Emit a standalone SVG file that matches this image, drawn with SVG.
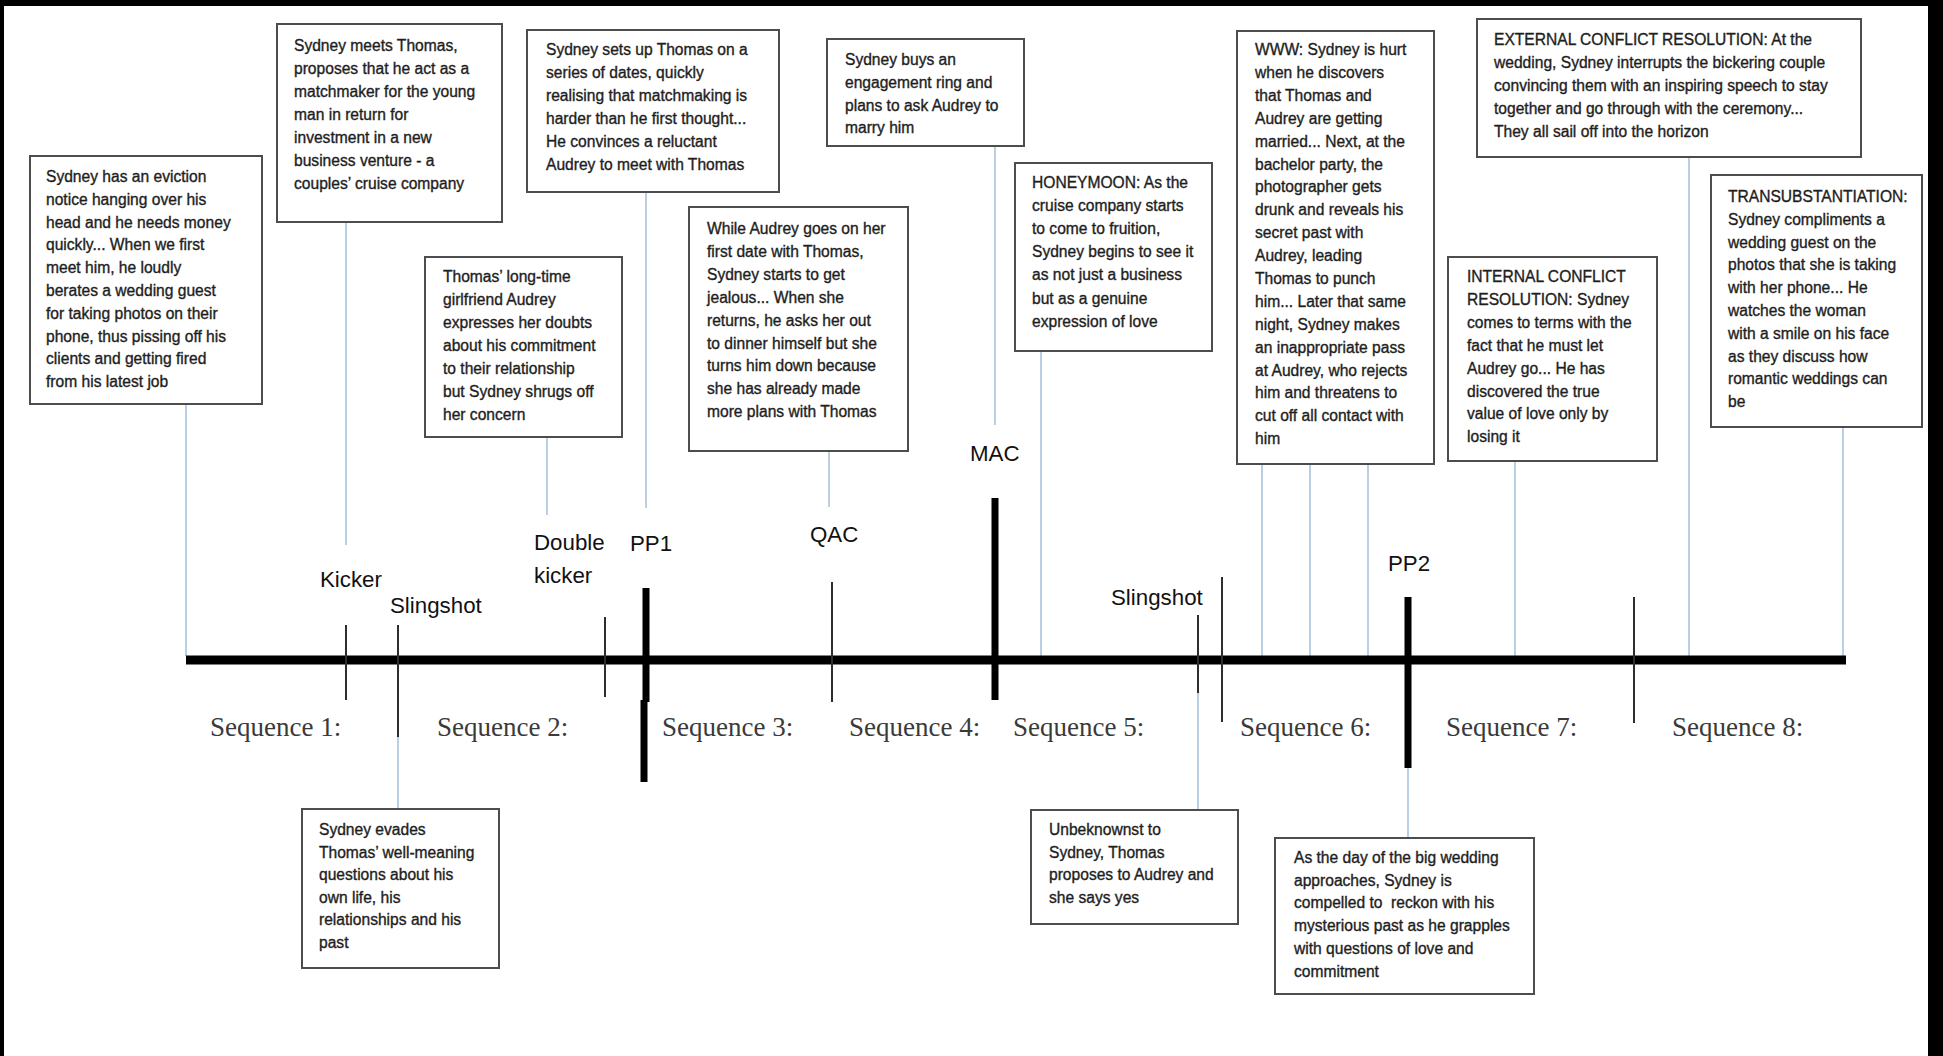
<svg xmlns="http://www.w3.org/2000/svg" width="1943" height="1056" viewBox="0 0 1943 1056">
<style>
.bg{fill:#ffffff}
.frame{fill:#000000}
.box{fill:#ffffff;stroke:#4d4d4d;stroke-width:2}
.t{font-family:"Liberation Sans",Arial,sans-serif;font-size:15.6px;fill:#1e1e1e;stroke:#1e1e1e;stroke-width:0.35}
.lbl{font-family:"Liberation Sans",Arial,sans-serif;font-size:22.3px;fill:#111111}
.seq{font-family:"Liberation Serif","Times New Roman",serif;font-size:27px;fill:#3a3a3a}
.conn{stroke:#a9c3de;stroke-width:1.6;fill:none}
.tick{stroke:#2e2e2e;stroke-width:2;fill:none}
.bar{stroke:#000000;stroke-width:7;fill:none}
.axis{stroke:#000000;stroke-width:9;fill:none}
</style>
<rect class="bg" x="0" y="0" width="1943" height="1056"/>
<rect class="frame" x="0" y="0" width="1943" height="6"/>
<rect class="frame" x="0" y="0" width="4" height="1056"/>
<rect class="frame" x="1928" y="0" width="15" height="1056"/>

<g id="connectors">
<line class="conn" x1="186" y1="404" x2="186" y2="656"/>
<line class="conn" x1="346" y1="222" x2="346" y2="545"/>
<line class="conn" x1="646" y1="192" x2="646" y2="508"/>
<line class="conn" x1="547" y1="437" x2="547" y2="515"/>
<line class="conn" x1="829" y1="451" x2="829" y2="507"/>
<line class="conn" x1="995" y1="146" x2="995" y2="425"/>
<line class="conn" x1="1041" y1="351" x2="1041" y2="656"/>
<line class="conn" x1="1262" y1="464" x2="1262" y2="656"/>
<line class="conn" x1="1310" y1="464" x2="1310" y2="656"/>
<line class="conn" x1="1368" y1="464" x2="1368" y2="656"/>
<line class="conn" x1="1515" y1="461" x2="1515" y2="656"/>
<line class="conn" x1="1689" y1="157" x2="1689" y2="656"/>
<line class="conn" x1="1843" y1="427" x2="1843" y2="656"/>
<line class="conn" x1="398" y1="737" x2="398" y2="809"/>
<line class="conn" x1="1198" y1="693" x2="1198" y2="810"/>
<line class="conn" x1="1408" y1="768" x2="1408" y2="838"/>
</g>

<g id="timeline">
<line class="axis" x1="186" y1="660" x2="1846" y2="660"/>
<line class="tick" x1="346" y1="625" x2="346" y2="700"/>
<line class="tick" x1="398" y1="625" x2="398" y2="737"/>
<line class="tick" x1="605" y1="617" x2="605" y2="697"/>
<line class="tick" x1="832" y1="582" x2="832" y2="702"/>
<line class="tick" x1="1198" y1="615" x2="1198" y2="693"/>
<line class="tick" x1="1222" y1="577" x2="1222" y2="722"/>
<line class="tick" x1="1634" y1="597" x2="1634" y2="723"/>
<line class="bar" x1="646" y1="588" x2="646" y2="702" stroke-width="6"/>
<line class="bar" x1="644" y1="700" x2="644" y2="782" stroke-width="4"/>
<line class="bar" x1="995" y1="498" x2="995" y2="700"/>
<line class="bar" x1="1408" y1="597" x2="1408" y2="768"/>
</g>

<g id="timeline-labels">
<text class="lbl" x="320" y="587">Kicker</text>
<text class="lbl" x="390" y="613">Slingshot</text>
<text class="lbl" x="534" y="550">Double</text>
<text class="lbl" x="534" y="583">kicker</text>
<text class="lbl" x="630" y="551">PP1</text>
<text class="lbl" x="810" y="542">QAC</text>
<text class="lbl" x="970" y="461">MAC</text>
<text class="lbl" x="1111" y="605">Slingshot</text>
<text class="lbl" x="1388" y="571">PP2</text>
</g>

<g id="sequences">
<text class="seq" x="210" y="736">Sequence 1:</text>
<text class="seq" x="437" y="736">Sequence 2:</text>
<text class="seq" x="662" y="736">Sequence 3:</text>
<text class="seq" x="849" y="736">Sequence 4:</text>
<text class="seq" x="1013" y="736">Sequence 5:</text>
<text class="seq" x="1240" y="736">Sequence 6:</text>
<text class="seq" x="1446" y="736">Sequence 7:</text>
<text class="seq" x="1672" y="736">Sequence 8:</text>
</g>

<g id="box-eviction">
<rect class="box" x="30" y="156" width="232" height="248"/>
<text class="t" x="46" y="182">
<tspan x="46" dy="0">Sydney has an eviction</tspan>
<tspan x="46" dy="22.8">notice hanging over his</tspan>
<tspan x="46" dy="22.8">head and he needs money</tspan>
<tspan x="46" dy="22.8">quickly... When we first</tspan>
<tspan x="46" dy="22.8">meet him, he loudly</tspan>
<tspan x="46" dy="22.8">berates a wedding guest</tspan>
<tspan x="46" dy="22.8">for taking photos on their</tspan>
<tspan x="46" dy="22.8">phone, thus pissing off his</tspan>
<tspan x="46" dy="22.8">clients and getting fired</tspan>
<tspan x="46" dy="22.8">from his latest job</tspan>
</text>
</g>

<g id="box-meets">
<rect class="box" x="277" y="24" width="225" height="198"/>
<text class="t" x="294" y="51">
<tspan x="294" dy="0">Sydney meets Thomas,</tspan>
<tspan x="294" dy="23">proposes that he act as a</tspan>
<tspan x="294" dy="23">matchmaker for the young</tspan>
<tspan x="294" dy="23">man in return for</tspan>
<tspan x="294" dy="23">investment in a new</tspan>
<tspan x="294" dy="23">business venture - a</tspan>
<tspan x="294" dy="23">couples’ cruise company</tspan>
</text>
</g>

<g id="box-dates">
<rect class="box" x="527" y="30" width="252" height="162"/>
<text class="t" x="546" y="55">
<tspan x="546" dy="0">Sydney sets up Thomas on a</tspan>
<tspan x="546" dy="22.9">series of dates, quickly</tspan>
<tspan x="546" dy="22.9">realising that matchmaking is</tspan>
<tspan x="546" dy="22.9">harder than he first thought...</tspan>
<tspan x="546" dy="22.9">He convinces a reluctant</tspan>
<tspan x="546" dy="22.9">Audrey to meet with Thomas</tspan>
</text>
</g>

<g id="box-girlfriend">
<rect class="box" x="425" y="257" width="197" height="180"/>
<text class="t" x="443" y="282">
<tspan x="443" dy="0">Thomas’ long-time</tspan>
<tspan x="443" dy="23">girlfriend Audrey</tspan>
<tspan x="443" dy="23">expresses her doubts</tspan>
<tspan x="443" dy="23">about his commitment</tspan>
<tspan x="443" dy="23">to their relationship</tspan>
<tspan x="443" dy="23">but Sydney shrugs off</tspan>
<tspan x="443" dy="23">her concern</tspan>
</text>
</g>

<g id="box-firstdate">
<rect class="box" x="689" y="207" width="219" height="244"/>
<text class="t" x="707" y="234">
<tspan x="707" dy="0">While Audrey goes on her</tspan>
<tspan x="707" dy="22.9">first date with Thomas,</tspan>
<tspan x="707" dy="22.9">Sydney starts to get</tspan>
<tspan x="707" dy="22.9">jealous... When she</tspan>
<tspan x="707" dy="22.9">returns, he asks her out</tspan>
<tspan x="707" dy="22.9">to dinner himself but she</tspan>
<tspan x="707" dy="22.9">turns him down because</tspan>
<tspan x="707" dy="22.9">she has already made</tspan>
<tspan x="707" dy="22.9">more plans with Thomas</tspan>
</text>
</g>

<g id="box-ring">
<rect class="box" x="827" y="39" width="197" height="107"/>
<text class="t" x="845" y="65">
<tspan x="845" dy="0">Sydney buys an</tspan>
<tspan x="845" dy="22.8">engagement ring and</tspan>
<tspan x="845" dy="22.8">plans to ask Audrey to</tspan>
<tspan x="845" dy="22.8">marry him</tspan>
</text>
</g>

<g id="box-honeymoon">
<rect class="box" x="1015" y="163" width="197" height="188"/>
<text class="t" x="1032" y="188">
<tspan x="1032" dy="0">HONEYMOON: As the</tspan>
<tspan x="1032" dy="23.1">cruise company starts</tspan>
<tspan x="1032" dy="23.1">to come to fruition,</tspan>
<tspan x="1032" dy="23.1">Sydney begins to see it</tspan>
<tspan x="1032" dy="23.1">as not just a business</tspan>
<tspan x="1032" dy="23.1">but as a genuine</tspan>
<tspan x="1032" dy="23.1">expression of love</tspan>
</text>
</g>

<g id="box-www">
<rect class="box" x="1237" y="31" width="197" height="433"/>
<text class="t" x="1255" y="55">
<tspan x="1255" dy="0">WWW: Sydney is hurt</tspan>
<tspan x="1255" dy="22.9">when he discovers</tspan>
<tspan x="1255" dy="22.9">that Thomas and</tspan>
<tspan x="1255" dy="22.9">Audrey are getting</tspan>
<tspan x="1255" dy="22.9">married... Next, at the</tspan>
<tspan x="1255" dy="22.9">bachelor party, the</tspan>
<tspan x="1255" dy="22.9">photographer gets</tspan>
<tspan x="1255" dy="22.9">drunk and reveals his</tspan>
<tspan x="1255" dy="22.9">secret past with</tspan>
<tspan x="1255" dy="22.9">Audrey, leading</tspan>
<tspan x="1255" dy="22.9">Thomas to punch</tspan>
<tspan x="1255" dy="22.9">him... Later that same</tspan>
<tspan x="1255" dy="22.9">night, Sydney makes</tspan>
<tspan x="1255" dy="22.9">an inappropriate pass</tspan>
<tspan x="1255" dy="22.9">at Audrey, who rejects</tspan>
<tspan x="1255" dy="22.9">him and threatens to</tspan>
<tspan x="1255" dy="22.9">cut off all contact with</tspan>
<tspan x="1255" dy="22.9">him</tspan>
</text>
</g>

<g id="box-external">
<rect class="box" x="1477" y="19" width="384" height="138"/>
<text class="t" x="1494" y="45">
<tspan x="1494" dy="0">EXTERNAL CONFLICT RESOLUTION: At the</tspan>
<tspan x="1494" dy="23">wedding, Sydney interrupts the bickering couple</tspan>
<tspan x="1494" dy="23">convincing them with an inspiring speech to stay</tspan>
<tspan x="1494" dy="23">together and go through with the ceremony...</tspan>
<tspan x="1494" dy="23">They all sail off into the horizon</tspan>
</text>
</g>

<g id="box-internal">
<rect class="box" x="1448" y="257" width="209" height="204"/>
<text class="t" x="1467" y="282">
<tspan x="1467" dy="0">INTERNAL CONFLICT</tspan>
<tspan x="1467" dy="22.9">RESOLUTION: Sydney</tspan>
<tspan x="1467" dy="22.9">comes to terms with the</tspan>
<tspan x="1467" dy="22.9">fact that he must let</tspan>
<tspan x="1467" dy="22.9">Audrey go... He has</tspan>
<tspan x="1467" dy="22.9">discovered the true</tspan>
<tspan x="1467" dy="22.9">value of love only by</tspan>
<tspan x="1467" dy="22.9">losing it</tspan>
</text>
</g>

<g id="box-transubstantiation">
<rect class="box" x="1711" y="175" width="211" height="252"/>
<text class="t" x="1728" y="202">
<tspan x="1728" dy="0">TRANSUBSTANTIATION:</tspan>
<tspan x="1728" dy="22.8">Sydney compliments a</tspan>
<tspan x="1728" dy="22.8">wedding guest on the</tspan>
<tspan x="1728" dy="22.8">photos that she is taking</tspan>
<tspan x="1728" dy="22.8">with her phone... He</tspan>
<tspan x="1728" dy="22.8">watches the woman</tspan>
<tspan x="1728" dy="22.8">with a smile on his face</tspan>
<tspan x="1728" dy="22.8">as they discuss how</tspan>
<tspan x="1728" dy="22.8">romantic weddings can</tspan>
<tspan x="1728" dy="22.8">be</tspan>
</text>
</g>

<g id="box-evades">
<rect class="box" x="302" y="809" width="197" height="159"/>
<text class="t" x="319" y="835">
<tspan x="319" dy="0">Sydney evades</tspan>
<tspan x="319" dy="22.6">Thomas’ well-meaning</tspan>
<tspan x="319" dy="22.6">questions about his</tspan>
<tspan x="319" dy="22.6">own life, his</tspan>
<tspan x="319" dy="22.6">relationships and his</tspan>
<tspan x="319" dy="22.6">past</tspan>
</text>
</g>

<g id="box-unbeknownst">
<rect class="box" x="1031" y="810" width="207" height="114"/>
<text class="t" x="1049" y="835">
<tspan x="1049" dy="0">Unbeknownst to</tspan>
<tspan x="1049" dy="22.7">Sydney, Thomas</tspan>
<tspan x="1049" dy="22.7">proposes to Audrey and</tspan>
<tspan x="1049" dy="22.7">she says yes</tspan>
</text>
</g>

<g id="box-wedding-day">
<rect class="box" x="1275" y="838" width="259" height="156"/>
<text class="t" x="1294" y="863" xml:space="preserve"><tspan x="1294" dy="0">As the day of the big wedding</tspan><tspan x="1294" dy="22.7">approaches, Sydney is</tspan><tspan x="1294" dy="22.7">compelled to  reckon with his</tspan><tspan x="1294" dy="22.7">mysterious past as he grapples</tspan><tspan x="1294" dy="22.7">with questions of love and</tspan><tspan x="1294" dy="22.7">commitment</tspan></text>
</g>
</svg>
